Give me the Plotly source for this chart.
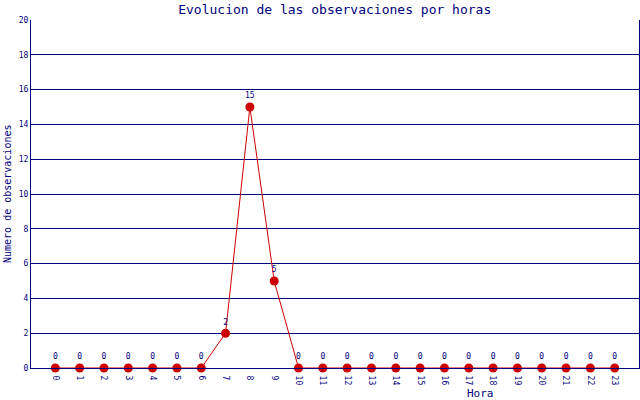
import plotly.graph_objs as go

horas = list(range(24))
observaciones = [0, 0, 0, 0, 0, 0, 0, 2, 15, 5, 0, 0, 0, 0, 0, 0, 0, 0, 0, 0, 0, 0, 0, 0]
y_ticks = list(range(0, 21, 2))

navy = "#000080"
rojo = "#cc0000"
fuente = "DejaVu Sans Mono"

trace0 = go.Scatter(
    x=horas,
    y=observaciones,
    mode="lines+markers+text",
    text=[str(v) for v in observaciones],
    textposition="top center",
    textfont=dict(family=fuente, size=8, color=navy),
    line=dict(color=rojo, width=1),
    marker=dict(color=rojo, size=9),
    cliponaxis=False,
)

layout = go.Layout(
    width=640,
    height=400,
    paper_bgcolor="white",
    plot_bgcolor="white",
    margin=dict(l=31, r=1, t=20, b=32, autoexpand=False),
    showlegend=False,
    title=dict(
        text="Evolucion de las observaciones por horas",
        x=0.523, xanchor="center",
        yref="container", y=1 - 9 / 400, yanchor="middle",
        font=dict(family=fuente, size=13, color=navy),
        automargin=False,
    ),
    xaxis=dict(
        range=[-1, 24],
        tickmode="array",
        tickvals=horas,
        ticktext=[str(h) for h in horas],
        tickangle=90,
        tickfont=dict(family=fuente, size=8, color=navy),
        ticklabelstandoff=5,
        showgrid=False,
        zeroline=False,
        showline=True,
        linecolor=navy,
        linewidth=1,
        ticks="",
        automargin=False,
    ),
    yaxis=dict(
        range=[0, 20],
        tickmode="array",
        tickvals=y_ticks,
        tickfont=dict(family=fuente, size=8, color=navy),
        showgrid=True,
        gridcolor=navy,
        gridwidth=1,
        zeroline=False,
        showline=True,
        mirror=True,
        linecolor=navy,
        linewidth=1,
        ticks="",
        automargin=False,
    ),
    annotations=[
        dict(
            text="Hora", xref="paper", yref="paper",
            x=(480 - 31) / 608, y=-25 / 348, xanchor="center", yanchor="middle",
            showarrow=False, font=dict(family=fuente, size=11, color=navy),
        ),
        dict(
            text="Numero de observaciones", xref="paper", yref="paper",
            x=-24 / 608, y=0.5, xanchor="center", yanchor="middle", textangle=-90,
            showarrow=False, font=dict(family=fuente, size=10, color=navy),
        ),
    ],
)

fig = go.Figure(data=[trace0], layout=layout)
# quitar el margen por defecto del body
fig.write_html("out.html", config={"displayModeBar": False},
               post_script="document.body.style.margin='0';")
